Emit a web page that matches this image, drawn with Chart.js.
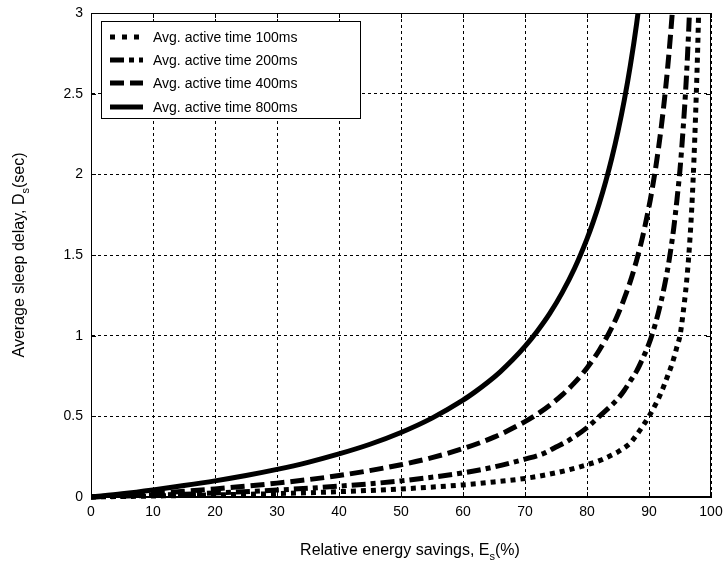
<!DOCTYPE html>
<html>
<head>
<meta charset="utf-8">
<script src="https://cdn.jsdelivr.net/npm/chart.js@4.4.1/dist/chart.umd.min.js"></script>
<style>
  html, body { margin: 0; padding: 0; background: #fff; }
  #myChart { display: block; }
</style>
</head>
<body>
<canvas id="myChart" width="726" height="565" style="width:726px;height:565px"></canvas>
<script>
// valores (E en %, D en segundos)
var ahorro100 = [0, 10, 20, 30, 40, 50, 60, 65, 70, 75, 78, 80, 82, 84, 85, 86, 87, 88, 89, 90, 91, 92, 93, 93.5, 94, 94.5, 95, 95.5, 96, 96.5, 97, 97.5, 98, 98.3];
var retardo100 = [0, 0.006, 0.013, 0.021, 0.033, 0.05, 0.075, 0.093, 0.115, 0.15, 0.178, 0.2, 0.225, 0.26, 0.28, 0.305, 0.335, 0.385, 0.44, 0.5, 0.57, 0.65, 0.75, 0.8, 0.86, 0.93, 1.0, 1.14, 1.31, 1.54, 1.87, 2.35, 3.0, 3.6];

var ahorro200 = [0, 10, 20, 30, 40, 50, 60, 65, 70, 73, 75, 77, 80, 82, 84, 85, 86, 87, 88, 89, 90, 91, 92, 92.5, 93, 93.5, 94, 94.5, 95, 95.5, 96, 96.5, 97];
var retardo200 = [0, 0.011, 0.025, 0.043, 0.067, 0.1, 0.15, 0.186, 0.235, 0.27, 0.31, 0.35, 0.43, 0.5, 0.57, 0.61, 0.66, 0.72, 0.78, 0.86, 0.95, 1.07, 1.22, 1.31, 1.41, 1.53, 1.67, 1.84, 2.03, 2.28, 2.58, 2.98, 3.5];

var ahorro400 = [0, 10, 20, 30, 40, 50, 55, 60, 65, 70, 72, 74, 76, 78, 80, 82, 84, 85, 86, 87, 88, 89, 90, 90.5, 91, 91.5, 92, 92.5, 93, 93.5, 94, 94.5];
var retardo400 = [0, 0.022, 0.05, 0.086, 0.133, 0.2, 0.244, 0.3, 0.371, 0.467, 0.514, 0.569, 0.633, 0.709, 0.8, 0.911, 1.05, 1.133, 1.229, 1.338, 1.467, 1.618, 1.8, 1.905, 2.022, 2.153, 2.3, 2.467, 2.657, 2.877, 3.133, 3.436];

var ahorro800 = [0, 5, 10, 15, 20, 25, 30, 35, 40, 45, 50, 55, 60, 62, 64, 66, 68, 70, 72, 74, 76, 78, 80, 81, 82, 83, 84, 85, 86, 87, 88, 89];
var retardo800 = [0, 0.02, 0.044, 0.071, 0.1, 0.133, 0.171, 0.215, 0.267, 0.327, 0.4, 0.489, 0.6, 0.653, 0.711, 0.776, 0.85, 0.933, 1.029, 1.138, 1.267, 1.418, 1.6, 1.705, 1.822, 1.953, 2.1, 2.267, 2.457, 2.677, 2.933, 3.236];

var etiquetas = ['Avg. active time 100ms', 'Avg. active time 200ms', 'Avg. active time 400ms', 'Avg. active time 800ms'];
var ticksX = [0, 10, 20, 30, 40, 50, 60, 70, 80, 90, 100];
var ticksY = [0, 0.5, 1, 1.5, 2, 2.5, 3];

var fuente = 'Liberation Sans, Arial, sans-serif';

function puntos(xs, ys) {
  var p = [];
  for (var i = 0; i < xs.length; i++) {
    p.push({x: xs[i], y: ys[i]});
  }
  return p;
}

function serie(i, xs, ys, dash) {
  return {
    label: etiquetas[i],
    data: puntos(xs, ys),
    showLine: true,
    borderColor: '#000',
    backgroundColor: '#000',
    borderWidth: 5,
    borderDash: dash,
    borderCapStyle: 'butt',
    borderJoinStyle: 'miter',
    pointRadius: 0,
    cubicInterpolationMode: 'monotone',
    clip: {left: 0, top: 0, right: 0, bottom: 3}
  };
}

// texto con subindice (D_s, E_s)
function textoSub(ctx, partes, x, y, size) {
  ctx.font = size + 'px ' + fuente;
  var wa = ctx.measureText(partes[0]).width;
  var wc = ctx.measureText(partes[2]).width;
  ctx.font = Math.round(size * 0.7) + 'px ' + fuente;
  var wb = ctx.measureText(partes[1]).width;
  var x0 = x - (wa + wb + wc) / 2;
  ctx.textAlign = 'left';
  ctx.textBaseline = 'alphabetic';
  ctx.font = size + 'px ' + fuente;
  ctx.fillText(partes[0], x0, y);
  ctx.font = Math.round(size * 0.7) + 'px ' + fuente;
  ctx.fillText(partes[1], x0 + wa, y + size * 0.3);
  ctx.font = size + 'px ' + fuente;
  ctx.fillText(partes[2], x0 + wa + wb, y);
}

var marco = {
  id: 'marco',
  afterDatasetsDraw: function (chart) {
    var ctx = chart.ctx, a = chart.chartArea;
    var sx = chart.scales.x, sy = chart.scales.y;
    ctx.save();
    ctx.strokeStyle = '#000';
    ctx.lineWidth = 1;
    ctx.setLineDash([]);
    ctx.beginPath();
    ticksX.forEach(function (v) {
      var px = Math.round(sx.getPixelForValue(v)) + 0.5;
      ctx.moveTo(px, a.bottom); ctx.lineTo(px, a.bottom - 5);
      ctx.moveTo(px, a.top); ctx.lineTo(px, a.top + 5);
    });
    ticksY.forEach(function (v) {
      var py = Math.round(sy.getPixelForValue(v)) + 0.5;
      ctx.moveTo(a.left, py); ctx.lineTo(a.left + 5, py);
      ctx.moveTo(a.right, py); ctx.lineTo(a.right - 5, py);
    });
    ctx.stroke();
    ctx.strokeRect(a.left + 0.5, a.top + 0.5, a.right - a.left - 1, a.bottom - a.top - 1);
    ctx.restore();
  },
  afterDraw: function (chart) {
    var ctx = chart.ctx, a = chart.chartArea;
    ctx.save();
    ctx.fillStyle = '#000';
    // titulos de ejes
    textoSub(ctx, ['Relative energy savings, E', 's', '(%)'], 410, 555, 16);
    ctx.save();
    ctx.translate(24, (a.top + a.bottom) / 2);
    ctx.rotate(-Math.PI / 2);
    textoSub(ctx, ['Average sleep delay, D', 's', '(sec)'], 0, 0, 16);
    ctx.restore();

    // leyenda
    var bx = 101, by = 21, bw = 259, bh = 97;
    ctx.fillStyle = '#fff';
    ctx.fillRect(bx, by, bw, bh);
    ctx.strokeStyle = '#000';
    ctx.lineWidth = 1;
    ctx.setLineDash([]);
    ctx.strokeRect(bx + 0.5, by + 0.5, bw, bh);
    var filas = [37, 60, 83, 107];
    chart.data.datasets.forEach(function (ds, i) {
      ctx.save();
      ctx.strokeStyle = '#000';
      ctx.lineWidth = 5;
      ctx.lineCap = 'butt';
      ctx.setLineDash(i === 0 ? [5, 7] : (ds.borderDash || []));
      ctx.beginPath();
      ctx.moveTo(110, filas[i]);
      ctx.lineTo(143, filas[i]);
      ctx.stroke();
      ctx.restore();
      ctx.fillStyle = '#000';
      ctx.font = '14px ' + fuente;
      ctx.textAlign = 'left';
      ctx.textBaseline = 'middle';
      ctx.fillText(ds.label, 153, filas[i] + 1);
    });
    ctx.restore();
  }
};

var ctx = document.getElementById('myChart').getContext('2d');
var grafico = new Chart(ctx, {
  type: 'scatter',
  data: {
    datasets: [
      serie(0, ahorro100, retardo100, [5, 5]),
      serie(1, ahorro200, retardo200, [14, 5, 5, 5]),
      serie(2, ahorro400, retardo400, [14, 6]),
      serie(3, ahorro800, retardo800, [])
    ]
  },
  options: {
    responsive: false,
    animation: false,
    layout: {padding: {left: 0, right: 15, top: 13, bottom: 0}},
    plugins: {legend: {display: false}, tooltip: {enabled: false}},
    scales: {
      x: {
        type: 'linear', min: 0, max: 100,
        afterFit: function (s) { s.height = 68; s.paddingLeft = 0; s.paddingRight = 0; },
        afterBuildTicks: function (s) { s.ticks = ticksX.map(function (v) { return {value: v}; }); },
        grid: {color: '#000', lineWidth: 1, drawTicks: false},
        border: {display: true, color: '#000', width: 1, dash: [3, 3]},
        ticks: {color: '#000', font: {family: fuente, size: 14}, padding: 7, maxRotation: 0,
          callback: function (v) { return String(v); }}
      },
      y: {
        type: 'linear', min: 0, max: 3,
        afterFit: function (s) { s.width = 91; s.paddingTop = 0; s.paddingBottom = 0; },
        afterBuildTicks: function (s) { s.ticks = ticksY.map(function (v) { return {value: v}; }); },
        grid: {color: '#000', lineWidth: 1, drawTicks: false},
        border: {display: true, color: '#000', width: 1, dash: [3, 3]},
        ticks: {color: '#000', font: {family: fuente, size: 14}, padding: 8,
          callback: function (v) { return String(v); }}
      }
    }
  },
  plugins: [marco]
});
</script>
</body>
</html>
